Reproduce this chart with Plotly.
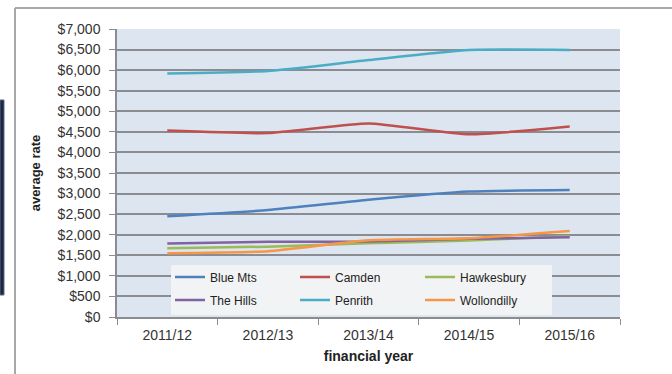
import plotly.graph_objects as go

# Average residential rate by council, financial years 2011/12 - 2015/16
years = ["2011/12", "2012/13", "2013/14", "2014/15", "2015/16"]

blue_mts = [2450, 2600, 2850, 3050, 3085]
camden = [4530, 4470, 4705, 4440, 4630]
hawkesbury = [1670, 1710, 1790, 1860, 1965]
the_hills = [1785, 1830, 1835, 1900, 1940]
penrith = [5920, 5980, 6245, 6490, 6490]
wollondilly = [1550, 1600, 1865, 1915, 2090]

series = [
    ("Blue Mts", blue_mts, "#4F81BD", "legend"),
    ("Camden", camden, "#C0504D", "legend"),
    ("Hawkesbury", hawkesbury, "#9BBB59", "legend"),
    ("The Hills", the_hills, "#8064A2", "legend2"),
    ("Penrith", penrith, "#4BACC6", "legend2"),
    ("Wollondilly", wollondilly, "#F79646", "legend2"),
]

W, H = 672, 374
ML, MR, MT, MB = 117, 52, 29, 57
PW, PH = W - ML - MR, H - MT - MB


def px_x(x):
    return (x - ML) / PW


def px_y(y):
    return (H - MB - y) / PH


fig = go.Figure()
for name, vals, color, leg in series:
    fig.add_trace(go.Scatter(
        x=years, y=vals, name=name, mode="lines",
        line=dict(color=color, width=2.5, shape="spline", smoothing=0.5),
        legend=leg,
    ))

grid = "#8a8c92"
tick_font = dict(family="Liberation Sans, Arial, sans-serif", size=14, color="#333333")
leg_font = dict(family="Liberation Sans, Arial, sans-serif", size=12, color="#222222")

legend_common = dict(
    orientation="h", xanchor="left", yanchor="middle",
    bgcolor="rgba(0,0,0,0)", font=leg_font,
    entrywidth=80, entrywidthmode="pixels", itemwidth=30,
    tracegroupgap=0,
)

fig.update_layout(
    width=W, height=H,
    margin=dict(l=ML, r=MR, t=MT, b=MB),
    paper_bgcolor="white",
    plot_bgcolor="#dce5f0",
    showlegend=True,
    legend=dict(x=px_x(170), y=px_y(277), **legend_common),
    legend2=dict(x=px_x(170), y=px_y(300), **legend_common),
    xaxis=dict(
        type="category", range=[-0.5, 4.5],
        tickson="boundaries", ticks="outside", ticklen=6, tickcolor=grid,
        showline=True, linecolor=grid, linewidth=1.5,
        showgrid=False, tickfont=tick_font, ticklabelstandoff=4,
        title=dict(text="<b>financial year</b>", standoff=10,
                   font=dict(family="Liberation Sans, Arial, sans-serif", size=14, color="#222222")),
    ),
    yaxis=dict(
        range=[0, 7000], dtick=500, tickprefix="$", tickformat=",d",
        ticks="outside", ticklen=6, tickcolor=grid,
        showline=True, linecolor=grid, linewidth=1.5,
        showgrid=True, gridcolor=grid, gridwidth=1.5,
        zeroline=False, tickfont=tick_font, ticklabelstandoff=6,
        title=dict(text="<b>average rate</b>", standoff=14,
                   font=dict(family="Liberation Sans, Arial, sans-serif", size=13, color="#222222")),
    ),
    shapes=[
        # legend panel
        dict(type="rect", xref="paper", yref="paper",
             x0=px_x(171), x1=px_x(552), y0=px_y(315), y1=px_y(265),
             fillcolor="#f2f3f4", line=dict(width=0), layer="above"),
        # outer chart frame
        dict(type="line", xref="paper", yref="paper",
             x0=px_x(15), x1=px_x(15), y0=px_y(8), y1=px_y(374),
             line=dict(color="#a8a8a8", width=2)),
        dict(type="line", xref="paper", yref="paper",
             x0=px_x(15), x1=px_x(672), y0=px_y(8), y1=px_y(8),
             line=dict(color="#a8a8a8", width=2)),
        # dark side panel at the left edge
        dict(type="rect", xref="paper", yref="paper",
             x0=px_x(0), x1=px_x(4), y0=px_y(295), y1=px_y(100),
             fillcolor="#1c2740", line=dict(color="#5a6a88", width=1)),
    ],
)

fig.write_html("out.html")
